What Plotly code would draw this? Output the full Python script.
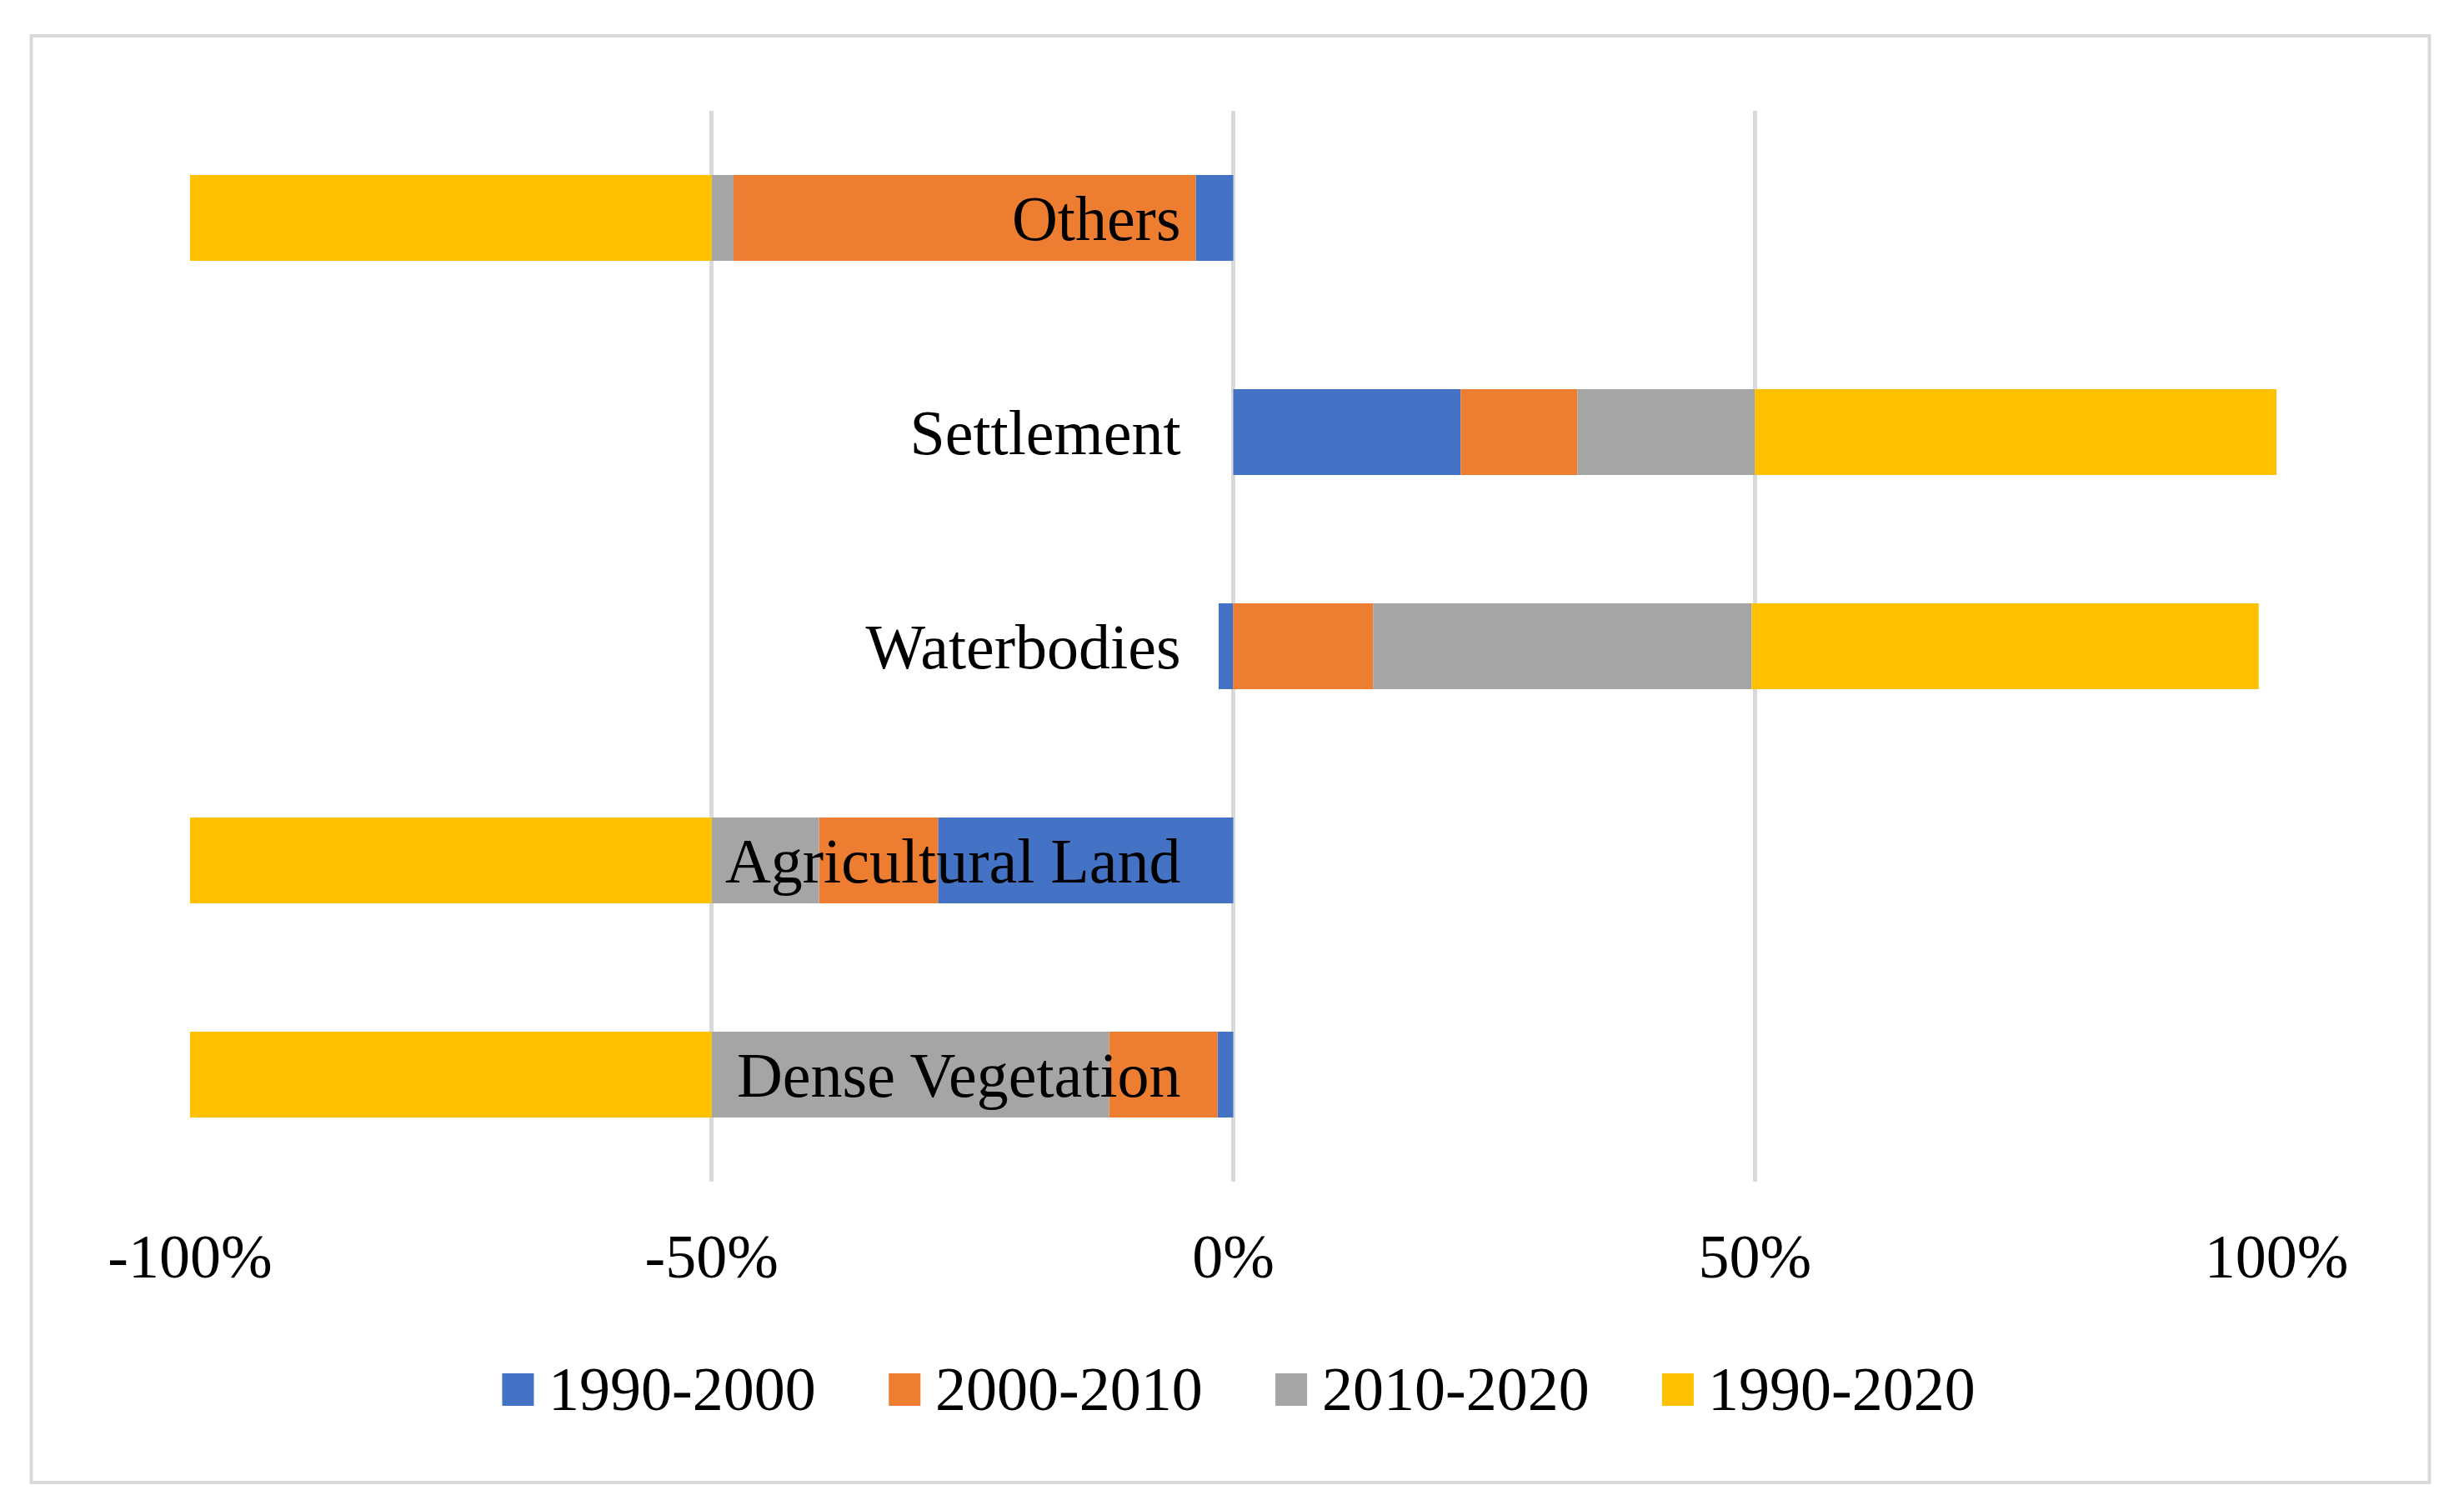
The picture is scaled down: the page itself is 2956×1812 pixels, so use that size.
import plotly.graph_objects as go

categories = ["Dense Vegetation", "Agricultural Land", "Waterbodies", "Settlement", "Others"]
series_names = ["1990-2000", "2000-2010", "2010-2020", "1990-2020"]
v_1990_2000 = [-1.5, -28.3, -1.4, 21.8, -3.6]
v_2000_2010 = [-10.4, -11.4, 13.4, 11.2, -44.3]
v_2010_2020 = [-38.1, -10.3, 36.3, 17.0, -2.1]
v_1990_2020 = [-50.0, -50.0, 48.6, 50.0, -50.0]
series_values = [v_1990_2000, v_2000_2010, v_2010_2020, v_1990_2020]
colors = ["#4472C4", "#ED7D31", "#A5A5A5", "#FFC000"]
tick_vals = [-100, -50, 0, 50, 100]
tick_text = ["-100%", "-50%", "0%", "50%", "100%"]

FONT = "Liberation Serif, Times New Roman, serif"
W, H = 2956, 1812
L, R, T, B = 220, 233, 125, 402

fig = go.Figure()
for name, vals, col in zip(series_names, series_values, colors):
    fig.add_trace(go.Bar(
        y=categories, x=vals, name=name, orientation="h",
        marker=dict(color=col, line=dict(width=0)),
        showlegend=False,
    ))

# outer border
fig.add_shape(type="rect", xref="paper", yref="paper",
              x0=-0.0761, x1=1.0733, y0=-0.281, y1=1.070,
              line=dict(color="#D9D9D9", width=4), fillcolor="rgba(0,0,0,0)", layer="below")

# custom legend
leg_x0 = 0.1496
leg_step = 0.1853
sq_w = 0.0152
for i, (name, col) in enumerate(zip(series_names, colors)):
    x0 = leg_x0 + i * leg_step
    fig.add_shape(type="rect", xref="paper", yref="paper",
                  x0=x0, x1=x0 + sq_w, y0=-0.2093, y1=-0.1790,
                  line=dict(width=0), fillcolor=col)
    fig.add_annotation(xref="paper", yref="paper", x=x0 + 0.0214, y=-0.1935,
                       text=name, showarrow=False, xanchor="left", yanchor="middle",
                       font=dict(family=FONT, size=74, color="#000000"))

fig.update_layout(
    width=W, height=H,
    margin=dict(l=L, r=R, t=T, b=B, pad=0),
    paper_bgcolor="white", plot_bgcolor="white",
    barmode="relative", bargap=0.6,
    font=dict(family=FONT, size=74, color="#000000"),
    showlegend=False,
    xaxis=dict(
        range=[-100, 100], tickvals=tick_vals, ticktext=tick_text,
        showgrid=True, gridcolor="#D9D9D9", gridwidth=5,
        zeroline=False, showline=False, ticks="",
        ticklabelstandoff=40,
        tickfont=dict(family=FONT, size=74, color="#000000"),
        fixedrange=True,
    ),
    yaxis=dict(
        type="category", categoryorder="array", categoryarray=categories,
        anchor="free", position=0.5, side="left",
        showgrid=False, zeroline=False, showline=False, ticks="",
        ticklabelstandoff=63,
        tickfont=dict(family=FONT, size=76, color="#000000"),
        fixedrange=True,
    ),
)

fig.write_html("out.html", config={"displayModeBar": False})
